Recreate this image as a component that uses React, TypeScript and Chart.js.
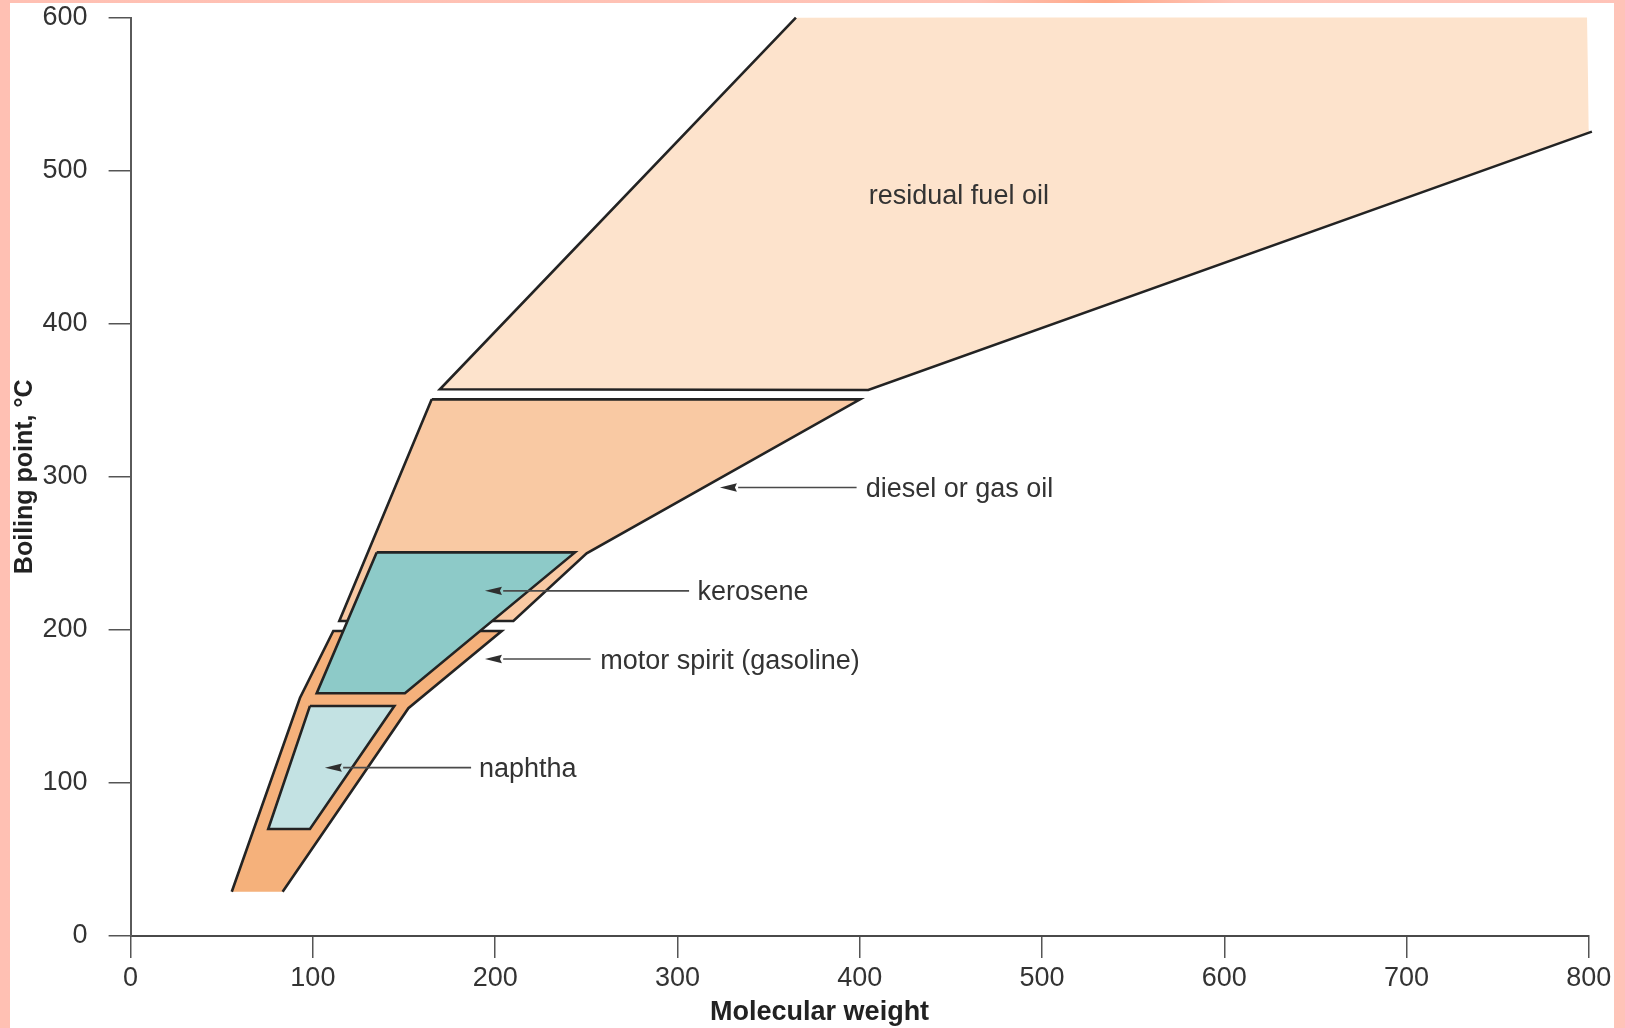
import React, { useEffect, useRef } from 'react';
import { Chart, registerables } from 'chart.js';

Chart.register(...registerables);

const FONT = "'Liberation Sans', Arial, Helvetica, sans-serif";

// Axis ticks
const xTicks = [0, 100, 200, 300, 400, 500, 600, 700, 800];
const yTicks = [0, 100, 200, 300, 400, 500, 600];
const xTitle = 'Molecular weight';
const xTitleAt = 378; // molecular-weight value under the centre of the axis title

// Region polygons: [molecular weight, boiling point °C]
const residualFill: number[][] = [[365, 600], [799, 602], [800, 527], [801.7, 525.5], [404.7, 356.7], [169.7, 357.2]];
const residualEdge: number[][] = [[365, 600], [169.7, 357.2], [404.7, 356.7], [801.7, 525.5]];
const dieselOutline: number[][] = [[165.2, 350.6], [400.2, 350.6], [250.2, 250.0], [210, 205.8], [114.5, 205.8], [165.2, 350.6]];
const motorFill: number[][] = [[111.2, 199.3], [203.6, 199.3], [152.4, 148.8], [83.4, 28.9], [55.5, 28.9], [92.9, 155.5]];
const motorEdge: number[][] = [[83.4, 28.9], [152.4, 148.8], [203.6, 199.3], [111.2, 199.3], [92.9, 155.5], [55.5, 28.9]];
const keroseneOutline: number[][] = [[135.0, 250.6], [243.8, 250.6], [150.5, 158.6], [102.1, 158.6], [135.0, 250.6]];
const naphthaOutline: number[][] = [[98.4, 150.3], [144.7, 150.3], [98.4, 69.9], [75.5, 69.9], [98.4, 150.3]];

// Labels
const labelNames = ['residual fuel oil', 'diesel or gas oil', 'kerosene', 'motor spirit (gasoline)', 'naphtha'];
const labelX = [405, 403.3, 311, 257.6, 191.1];
const labelY = [483, 291.5, 223.8, 179.3, 108.6];

// Arrows (pointing left)
const arrowY = [293, 225.5, 181, 110];
const arrowStartX = [398.3, 306.4, 252.4, 186.8];
const arrowTipX = [323.3, 194.4, 194.4, 106.6];

const pts = (a: number[][]) => a.map(([x, y]) => ({ x, y }));

const fillDs = (data: number[][], color: string, order: number) => ({
  data: pts(data),
  fill: 'shape',
  backgroundColor: color,
  borderColor: 'rgba(0,0,0,0)',
  borderWidth: 1,
  pointRadius: 0,
  tension: 0,
  clip: false,
  order,
});

const edgeDs = (data: number[][], order: number) => ({
  data: pts(data),
  fill: false,
  borderColor: '#232323',
  borderWidth: 2.6,
  borderJoinStyle: 'miter',
  pointRadius: 0,
  tension: 0,
  clip: false,
  order,
});

const annotationPlugin = {
  id: 'annotations',
  afterDatasetsDraw(chart: any) {
    const { ctx, scales } = chart;
    const x = scales.x;
    const y = scales.y;
    ctx.save();
    ctx.fillStyle = '#2e2e2e';
    arrowTipX.forEach((tx, i) => {
      const px = x.getPixelForValue(tx);
      const py = y.getPixelForValue(arrowY[i]);
      ctx.beginPath();
      ctx.moveTo(px, py);
      ctx.lineTo(px + 17, py - 4.2);
      ctx.lineTo(px + 15, py);
      ctx.lineTo(px + 17, py + 4.2);
      ctx.closePath();
      ctx.fill();
    });
    ctx.font = `27px ${FONT}`;
    ctx.fillStyle = '#333333';
    ctx.textAlign = 'left';
    ctx.textBaseline = 'alphabetic';
    labelNames.forEach((t, i) => {
      ctx.fillText(t, x.getPixelForValue(labelX[i]), y.getPixelForValue(labelY[i]) + 7);
    });
    // x-axis title (placed left of the axis centre, as in the figure)
    ctx.font = `bold 27px ${FONT}`;
    ctx.fillStyle = '#222';
    ctx.textAlign = 'center';
    ctx.textBaseline = 'middle';
    ctx.fillText(xTitle, x.getPixelForValue(xTitleAt), 1012.5);
    ctx.restore();
  },
};

export default function App() {
  const ref = useRef<HTMLCanvasElement>(null);
  useEffect(() => {
    const datasets: any[] = [
      fillDs(residualFill, '#FDE3CC', 20),
      edgeDs(residualEdge, 19),
      fillDs(dieselOutline, '#F9C9A3', 18),
      edgeDs(dieselOutline, 17),
      fillDs(motorFill, '#F5B17B', 16),
      edgeDs(motorEdge, 15),
      fillDs(keroseneOutline, '#8DCAC8', 14),
      edgeDs(keroseneOutline, 13),
      fillDs(naphthaOutline, '#C3E2E3', 12),
      edgeDs(naphthaOutline, 11),
      ...arrowY.map((ay, i) => ({
        data: [{ x: arrowStartX[i], y: ay }, { x: arrowTipX[i] + 10, y: ay }],
        fill: false,
        borderColor: '#4a4a4a',
        borderWidth: 1.6,
        pointRadius: 0,
        clip: false,
        order: 1,
      })),
    ];
    const chart = new Chart(ref.current as HTMLCanvasElement, {
      type: 'line',
      data: { datasets },
      plugins: [annotationPlugin],
      options: {
        responsive: false,
        devicePixelRatio: 1,
        animation: false,
        events: [],
        layout: { padding: { left: 0, top: 17.6, right: 36.2, bottom: 0 } },
        plugins: { legend: { display: false }, tooltip: { enabled: false } },
        scales: {
          x: {
            type: 'linear',
            position: 'bottom',
            min: 0,
            max: 800,
            afterBuildTicks: (s: any) => {
              s.ticks = xTicks.map((v) => ({ value: v }));
            },
            afterFit: (s: any) => {
              s.height = 1028 - 936;
              s.paddingLeft = 0;
              s.paddingRight = 0;
            },
            ticks: {
              color: '#333',
              font: { family: FONT, size: 27 },
              padding: 4,
              maxRotation: 0,
              autoSkip: false,
            },
            grid: { drawOnChartArea: false, drawTicks: true, tickLength: 22, color: '#555', lineWidth: 1.5 },
            border: { display: true, color: '#4a4a4a', width: 2 },
            title: { display: false },
          },
          y: {
            type: 'linear',
            position: 'left',
            min: 0,
            max: 600,
            afterBuildTicks: (s: any) => {
              s.ticks = yTicks.map((v) => ({ value: v }));
            },
            afterFit: (s: any) => {
              s.width = 130.6;
              s.paddingTop = 0;
              s.paddingBottom = 0;
            },
            ticks: {
              color: '#333',
              font: { family: FONT, size: 27 },
              padding: 21,
              autoSkip: false,
            },
            grid: { drawOnChartArea: false, drawTicks: true, tickLength: 22, color: '#555', lineWidth: 1.5 },
            border: { display: true, color: '#5a5a5a', width: 2 },
            title: {
              display: true,
              text: 'Boiling point, °C',
              color: '#222',
              font: { family: FONT, size: 25, weight: 'bold' },
              padding: { top: 10, bottom: 0 },
            },
          },
        },
      } as any,
    });
    return () => chart.destroy();
  }, []);

  return (
    <div
      style={{
        position: 'fixed',
        left: 0,
        top: 0,
        width: 1625,
        height: 1028,
        overflow: 'hidden',
        background: 'linear-gradient(90deg, #FFC0B3 0%, #FFC3B6 60%, #FFA888 68%, #FFC6BA 76%, #FFC3B8 100%)',
      }}
    >
      <div style={{ position: 'absolute', left: 10, top: 3, width: 1604, height: 1025, background: '#ffffff' }} />
      <canvas
        ref={ref}
        width={1625}
        height={1028}
        style={{ position: 'absolute', left: 0, top: 0, width: 1625, height: 1028 }}
      />
    </div>
  );
}
